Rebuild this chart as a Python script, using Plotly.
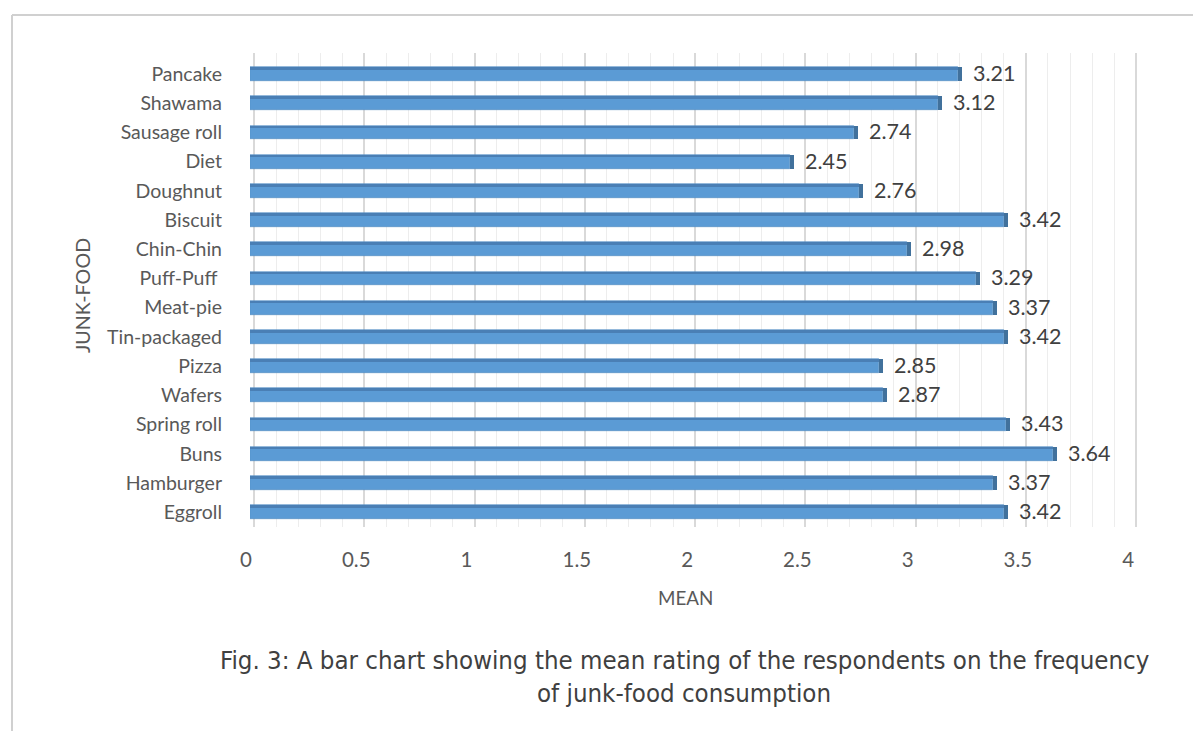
import plotly.graph_objects as go

# Junk-food items, listed bottom to top as they appear on the category axis
foods = ["Eggroll", "Hamburger", "Buns", "Spring roll", "Wafers", "Pizza",
         "Tin-packaged", "Meat-pie", "Puff-Puff ", "Chin-Chin", "Biscuit",
         "Doughnut", "Diet", "Sausage roll", "Shawama", "Pancake"]
means = [3.42, 3.37, 3.64, 3.43, 2.87, 2.85, 3.42, 3.37, 3.29, 2.98,
         3.42, 2.76, 2.45, 2.74, 3.12, 3.21]
x_ticks = [0, 0.5, 1, 1.5, 2, 2.5, 3, 3.5, 4]
x_tick_text = ["0", "0.5", "1", "1.5", "2", "2.5", "3", "3.5", "4"]

FONT = "Lato, 'Open Sans', sans-serif"
BAR_FACE = "#5B9BD5"
BAR_TOP = "#4A7FB5"
BAR_END = "#41719C"
BAR_W = 0.47

# plot-area pixel bounds, used to place paper-referenced items
PL, PR, PT, PB = 250, 1141, 53, 527
X_MAX = 4.04
K = (PR - PL) / X_MAX          # pixels per unit on the value axis
BACK = 4 / K                   # back-wall gridlines sit a few px right of the bar base


def px(x):
    return (x - PL) / (PR - PL)


def py(y):
    return (PB - y) / (PB - PT)


fig = go.Figure()

# front face of each bar
fig.add_trace(go.Bar(
    y=foods, x=means, orientation="h", width=BAR_W, offset=-BAR_W / 2,
    marker=dict(color=BAR_FACE, line=dict(width=0.6, color="#4F89C0")),
    hoverinfo="skip", showlegend=False,
))
# darker top face strip for the bevelled look
fig.add_trace(go.Bar(
    y=foods, x=means, orientation="h", width=0.09, offset=BAR_W / 2 - 0.09,
    marker=dict(color=BAR_TOP, line=dict(width=0)),
    hoverinfo="skip", showlegend=False,
))
# end cap at the tip of each bar
fig.add_trace(go.Bar(
    y=foods, x=[0.018] * len(means), base=means, orientation="h",
    width=BAR_W, offset=-BAR_W / 2,
    marker=dict(color=BAR_END, line=dict(width=0)),
    hoverinfo="skip", showlegend=False,
))

# value labels beside each bar
for f, v in zip(foods, means):
    fig.add_annotation(
        x=v, y=f, xref="x", yref="y", text=f"{v:.2f}", showarrow=False,
        xanchor="left", yanchor="middle", xshift=13, yshift=1,
        font=dict(family=FONT, size=21.5, color="#404040"),
    )

# axis titles
fig.add_annotation(
    xref="paper", yref="paper", x=px(685), y=py(597),
    xanchor="center", yanchor="middle", text="MEAN", showarrow=False,
    font=dict(family=FONT, size=18.8, color="#595959"),
)
fig.add_annotation(
    xref="paper", yref="paper", x=px(82), y=py(296),
    text="JUNK-FOOD", textangle=-90, showarrow=False,
    xanchor="center", yanchor="middle",
    font=dict(family=FONT, size=19.7, color="#595959"),
)

# figure caption
caption_font = dict(family="'DejaVu Sans Condensed', 'Liberation Sans Narrow', sans-serif",
                    size=25.6, color="#404040")
fig.add_annotation(
    xref="paper", yref="paper", x=px(684), y=py(660),
    xanchor="center", yanchor="middle",
    text="Fig. 3: A bar chart showing the mean rating of the respondents on the frequency",
    showarrow=False, font=caption_font,
)
fig.add_annotation(
    xref="paper", yref="paper", x=px(684), y=py(693),
    xanchor="center", yanchor="middle",
    text="of junk-food consumption", showarrow=False, font=caption_font,
)

# page border lines (left and top)
fig.add_shape(type="line", xref="paper", yref="paper",
              x0=px(12), x1=px(12), y0=py(731), y1=py(15),
              line=dict(color="#D0D0D0", width=2))
fig.add_shape(type="line", xref="paper", yref="paper",
              x0=px(12), x1=px(1193), y0=py(15), y1=py(15),
              line=dict(color="#D0D0D0", width=2))

fig.update_layout(
    width=1193, height=731,
    margin=dict(l=PL, r=1193 - PR, t=PT, b=731 - PB, autoexpand=False),
    paper_bgcolor="white", plot_bgcolor="white",
    barmode="overlay", bargap=0,
    # value axis carrying the bars and the tick labels
    xaxis=dict(
        range=[0, X_MAX], tickvals=x_ticks, ticktext=x_tick_text,
        showgrid=False, zeroline=False, showline=False, ticks="",
        tickfont=dict(family=FONT, size=20.5, color="#595959"),
        ticklabelstandoff=18, ticklabelshift=-4,
    ),
    # back-wall gridlines, offset to give the depth effect
    xaxis2=dict(
        overlaying="x", side="bottom", range=[-BACK, X_MAX - BACK],
        tickvals=x_ticks, showticklabels=False,
        showgrid=True, gridcolor="#D9D9D9", gridwidth=1.5,
        minor=dict(dtick=0.1, showgrid=True, gridcolor="#EDEDED", gridwidth=1),
        zeroline=False, showline=False, ticks="", layer="below traces",
    ),
    yaxis=dict(
        type="category", range=[-0.51, 15.72],
        showgrid=False, zeroline=False, showline=False, ticks="",
        tickfont=dict(family=FONT, size=19.5, color="#595959"),
        ticklabelstandoff=27,
    ),
    font=dict(family=FONT),
)

# an invisible trace anchors the gridline axis so it is drawn
fig.add_trace(go.Scatter(x=[0], y=[foods[0]], xaxis="x2", mode="markers",
                         marker=dict(opacity=0), hoverinfo="skip", showlegend=False))

fig.write_html("out.html")
